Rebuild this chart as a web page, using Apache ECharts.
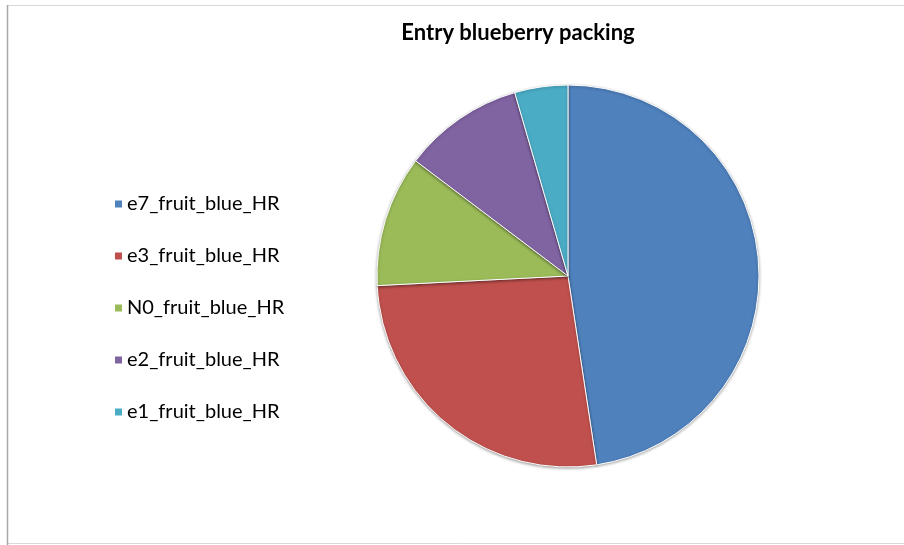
<!DOCTYPE html>
<html>
<head>
<meta charset="utf-8">
<script src="https://cdn.jsdelivr.net/npm/echarts@6/dist/echarts.min.js"></script>
<style>html,body{margin:0;padding:0;background:#fff;}#c{width:904px;height:545px;}</style>
</head>
<body>
<div id="c"></div>
<script>
const titleText = "Entry blueberry packing";
const categories = ["e7_fruit_blue_HR", "e3_fruit_blue_HR", "N0_fruit_blue_HR", "e2_fruit_blue_HR", "e1_fruit_blue_HR"];
const values = [47.6, 26.6, 11.1, 10.2, 4.5];
const colors = ["#4F81BD", "#C0504D", "#9BBB59", "#8064A2", "#4BACC6"];

const chart = echarts.init(document.getElementById('c'), null, {renderer: 'canvas'});
chart.setOption({
  animation: false,
  backgroundColor: '#ffffff',
  color: colors,
  graphic: [{
    type: 'rect', shape: {x: 7.5, y: 5.5, width: 910, height: 538},
    style: {fill: 'none', stroke: '#d8d8d8', lineWidth: 1}, silent: true, z: -1
  }, {
    type: 'line', shape: {x1: 7.5, y1: 5, x2: 7.5, y2: 545},
    style: {stroke: '#a8a8a8', lineWidth: 1.5}, silent: true
  }],
  title: {
    text: titleText, left: 513, top: 17, textAlign: 'center',
    textStyle: {fontFamily: 'Lato', fontWeight: 'bold', fontSize: 22, color: '#000'}
  },
  legend: {
    orient: 'vertical', left: 108, top: 189,
    itemWidth: 9, itemHeight: 9, itemGap: 32,
    icon: 'rect',
    textStyle: {fontFamily: 'Lato', fontSize: 20, color: '#000', lineHeight: 20, padding: [0, 0, 0, -1]},
    data: categories
  },
  series: [{
    type: 'pie',
    center: [568, 276],
    radius: 191,
    startAngle: 90,
    clockwise: true,
    label: {show: false},
    labelLine: {show: false},
    emphasis: {disabled: true},
    itemStyle: {borderColor: '#ffffff', borderWidth: 1, shadowColor: 'rgba(0,0,0,0.35)', shadowBlur: 3, shadowOffsetY: 1},
    data: categories.map((n, i) => ({name: n, value: values[i]}))
  }]
});
</script>
</body>
</html>
